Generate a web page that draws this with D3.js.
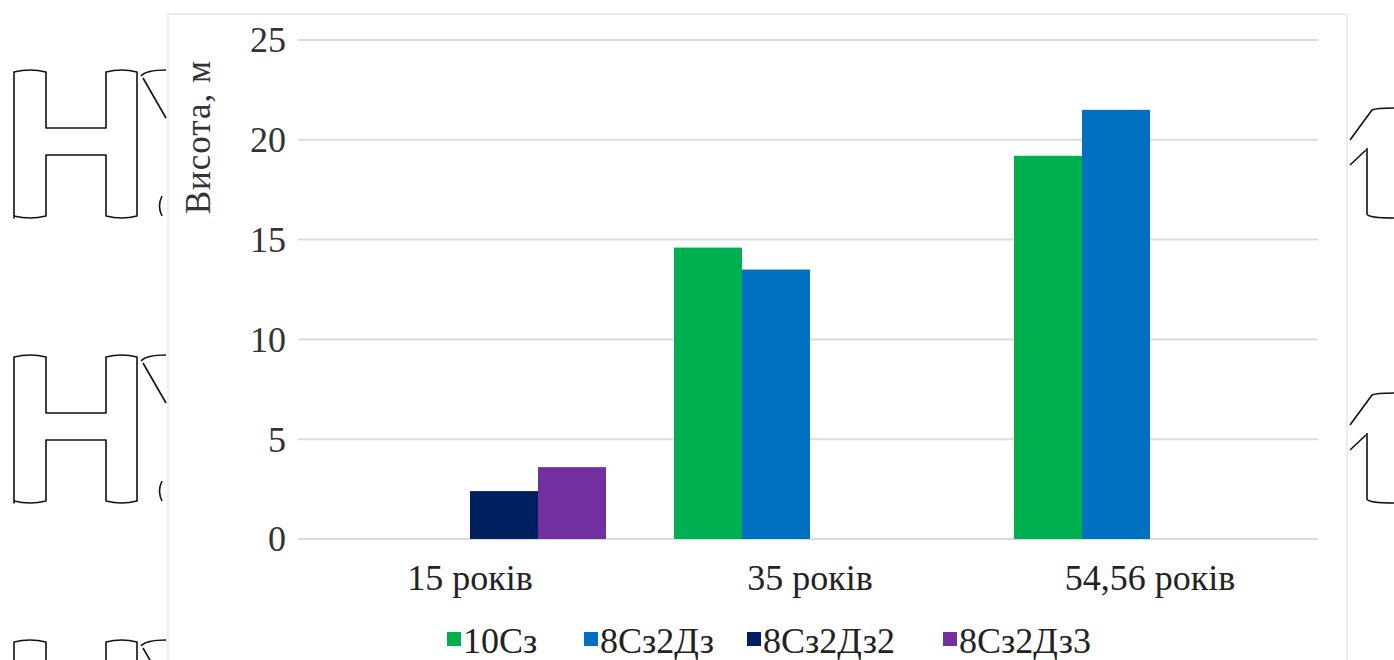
<!DOCTYPE html>
<html>
<head>
<meta charset="utf-8">
<script src="https://cdn.jsdelivr.net/npm/d3@7/dist/d3.min.js"></script>
</head>
<body style="margin:0;background:#fff">
<svg id="chart" width="1394" height="660" style="display:block"></svg>
<script>
// Categories (stand age) and series (stand composition)
const categories = ["15 років", "35 років", "54,56 років"];
const seriesNames = ["10Сз", "8Сз2Дз", "8Сз2Дз2", "8Сз2Дз3"];
const seriesColors = ["#00b050", "#0070c0", "#002060", "#7030a0"];

// Heights, m (null = no stand of that composition at that age)
const h10Sz      = [null, 14.6, 19.2];
const h8Sz2Dz    = [null, 13.5, 21.5];
const h8Sz2Dz2   = [2.4, null, null];
const h8Sz2Dz3   = [3.6, null, null];

const yTicks = [0, 5, 10, 15, 20, 25];
const yTitle = "Висота, м";

const seriesValues = [h10Sz, h8Sz2Dz, h8Sz2Dz2, h8Sz2Dz3];
const FONT = "\"Liberation Serif\", Tinos";

const svg = d3.select("#chart");

// ---- page artwork behind the chart (outlined letters) ----
const deco = svg.append("g")
  .attr("fill", "none")
  .attr("stroke", "#111")
  .attr("stroke-width", 1.6)
  .attr("stroke-linejoin", "round");

function letterH(y0) {
  const x0 = 14, x1 = 46, x2 = 106, x3 = 137;
  const h = 148, cb0 = y0 + 58, cb1 = y0 + 85, yb = y0 + h;
  return `M${x0},${yb} L${x0},${y0 + 2} Q${(x0 + x1) / 2},${y0 - 2} ${x1},${y0 + 2} ` +
         `L${x1},${cb0} L${x2},${cb0} L${x2},${y0 + 2} Q${(x2 + x3) / 2},${y0 - 2} ${x3},${y0 + 2} ` +
         `L${x3},${yb - 2} Q${(x2 + x3) / 2},${yb + 2} ${x2},${yb - 2} L${x2},${cb1} L${x1},${cb1} ` +
         `L${x1},${yb - 2} Q${(x0 + x1) / 2},${yb + 2} ${x0},${yb - 2} Z`;
}
[70, 355, 640].forEach(y0 => {
  deco.append("path").attr("d", letterH(y0));
  deco.append("path").attr("d", `M141,${y0 + 6} Q146,${y0} 166,${y0}`);
  deco.append("path").attr("d", `M143,${y0 + 8} L166,${y0 + 48}`);
  deco.append("path").attr("d", `M162,${y0 + 126} Q157,${y0 + 136} 162,${y0 + 146}`);
});
[108, 393].forEach(y0 => {
  deco.append("path").attr("d", `M1350,${y0 + 32} L1372,${y0 + 2} Q1376,${y0} 1394,${y0}`);
  deco.append("path").attr("d", `M1350,${y0 + 57} L1366,${y0 + 42}`);
  deco.append("path").attr("d", `M1367,${y0 + 40} L1367,${y0 + 106} Q1368,${y0 + 110} 1394,${y0 + 110}`);
});

// ---- chart frame ----
svg.append("rect")
  .attr("x", 168).attr("y", 14)
  .attr("width", 1179).attr("height", 680)
  .attr("fill", "#fff")
  .attr("stroke", "#e8e8e8")
  .attr("stroke-width", 1.5);

// ---- scales ----
const plot = { left: 300, right: 1320, top: 40, bottom: 539 };

const x0 = d3.scaleBand()
  .domain(categories)
  .range([plot.left, plot.right])
  .paddingInner(0).paddingOuter(0);

const x1 = d3.scaleBand()
  .domain(seriesNames)
  .range([0, x0.bandwidth()])
  .paddingInner(0).paddingOuter(0.5);

const y = d3.scaleLinear()
  .domain([0, 25])
  .range([plot.bottom, plot.top]);

// ---- gridlines ----
svg.append("g")
  .selectAll("line")
  .data(yTicks)
  .join("line")
  .attr("x1", plot.left - 2)
  .attr("x2", plot.right - 2)
  .attr("y1", d => y(d))
  .attr("y2", d => y(d))
  .attr("stroke", "#dcdcdc")
  .attr("stroke-width", 2);

// ---- y axis labels ----
const yAxis = d3.axisLeft(y)
  .tickValues(yTicks)
  .tickSize(0)
  .tickPadding(0)
  .tickFormat(d3.format("d"));

const yg = svg.append("g")
  .attr("transform", `translate(${plot.left - 14},0)`)
  .call(yAxis)
  .attr("font-family", FONT)
  .attr("font-size", 36);
yg.select(".domain").remove();
yg.selectAll("text")
  .style("font-family", FONT)
  .attr("fill", "#333")
  .attr("dy", "0.33em");

// ---- y axis title ----
svg.append("text")
  .attr("transform", `translate(210,137) rotate(-90)`)
  .attr("text-anchor", "middle")
  .style("font-family", FONT)
  .style("font-size", "35px")
  .style("letter-spacing", "1px")
  .attr("fill", "#333")
  .text(yTitle);

// ---- bars ----
const rows = [];
seriesNames.forEach((s, i) => {
  categories.forEach((c, j) => {
    const v = seriesValues[i][j];
    if (v != null) rows.push({ series: s, category: c, value: v, color: seriesColors[i] });
  });
});

svg.append("g")
  .selectAll("rect")
  .data(rows)
  .join("rect")
  .attr("x", d => x0(d.category) + x1(d.series))
  .attr("width", x1.bandwidth())
  .attr("y", d => y(d.value))
  .attr("height", d => y(0) - y(d.value))
  .attr("fill", d => d.color);

// ---- x axis labels ----
const xAxis = d3.axisBottom(x0).tickSize(0).tickPadding(0);
const xg = svg.append("g")
  .attr("transform", `translate(0,${plot.bottom + 51})`)
  .call(xAxis)
  .attr("font-family", FONT)
  .attr("font-size", 36);
xg.select(".domain").remove();
xg.selectAll("text")
  .style("font-family", FONT)
  .attr("fill", "#222")
  .attr("dy", 0);

// ---- legend ----
const legendX = [447, 584, 747, 943];
const legend = svg.append("g");
seriesNames.forEach((s, i) => {
  const g = legend.append("g").attr("transform", `translate(${legendX[i]},0)`);
  g.append("rect")
    .attr("x", 0).attr("y", 632)
    .attr("width", 14).attr("height", 14)
    .attr("fill", seriesColors[i]);
  g.append("text")
    .attr("x", 16).attr("y", 653)
    .style("font-family", FONT)
    .style("font-size", "36px")
    .attr("fill", "#222")
    .text(s);
});
</script>
</body>
</html>
